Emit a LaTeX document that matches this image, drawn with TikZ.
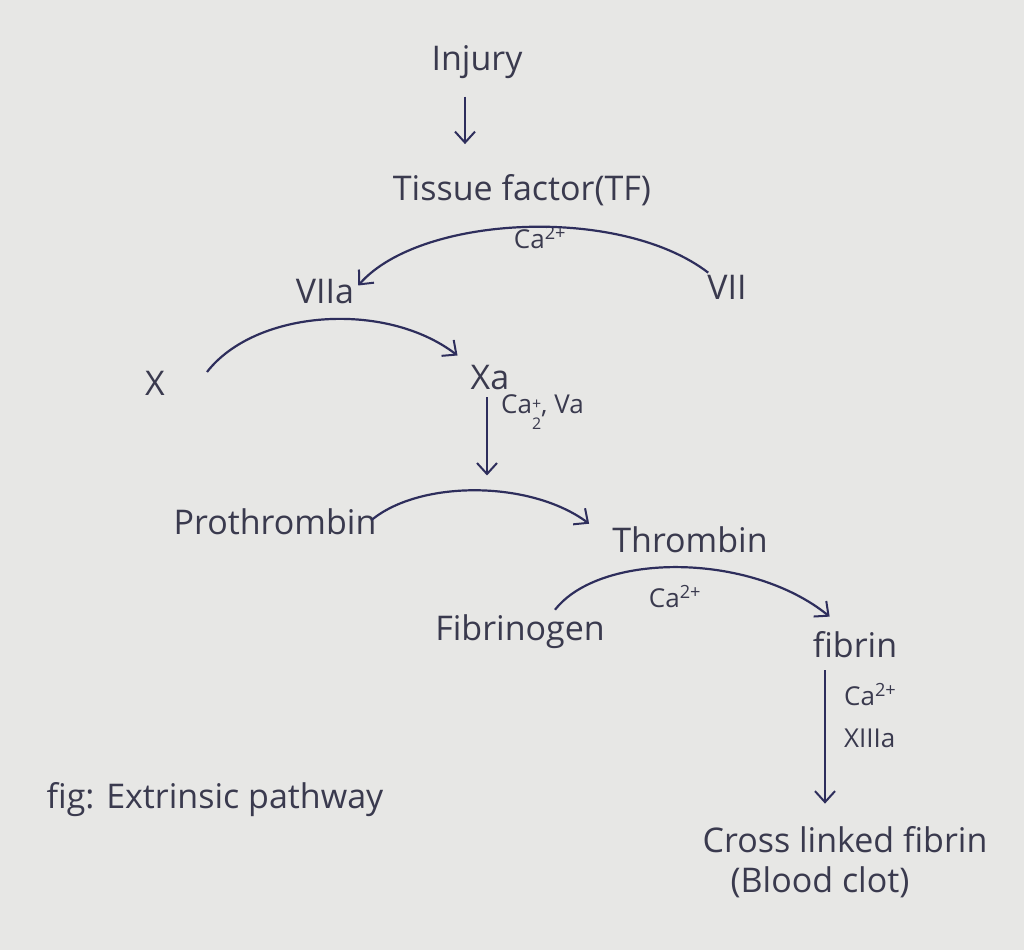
\documentclass[tikz,border=0pt]{standalone}
\usepackage{fontspec}
\setmainfont{Open Sans}
\usetikzlibrary{arrows.meta,calc}
\definecolor{paper}{HTML}{E7E7E5}
\definecolor{ink}{HTML}{2E2E5C}
\definecolor{pen}{HTML}{3A3A4E}
\tikzset{
  lbl/.style={text=pen,font=\fontsize{34}{38}\selectfont,inner sep=2pt},
  small/.style={text=pen,font=\fontsize{26}{30}\selectfont,inner sep=1pt},
  arr/.style={draw=ink,line width=2.2pt,-{Straight Barb[length=11pt,width=20pt,line width=2pt]}},
}
\begin{document}
\begin{tikzpicture}[x=1pt,y=1pt]
\fill[paper] (0,0) rectangle (1024,950);
\useasboundingbox (0,0) rectangle (1024,950);
% nodes
\node[lbl] (inj) at (477,888) {Injury};
\node[lbl] (tf) at (522,760) {Tissue factor(TF)};
\node[lbl] (viia) at (325,658) {VIIa};
\node[lbl] (vii) at (727,663) {VII};
\node[lbl] (x) at (155,567) {X};
\node[lbl] (xa) at (490,572) {Xa};
\node[lbl] (pro) at (275,428) {Prothrombin};
\node[lbl] (thr) at (690,410) {Thrombin};
\node[lbl] (fbg) at (520,318) {Fibrinogen};
\node[lbl] (fib) at (855,305) {fibrin};
\node[lbl] (clf) at (845,110) {Cross linked fibrin};
\node[lbl] (clot) at (820,68) {(Blood clot)};
\node[lbl] (fig) at (215,150) {fig: Extrinsic pathway};
% labels
\node[small] (ca1) at (540,712) {Ca\textsuperscript{2+}};
\node[small,anchor=west] (ca2) at (500,538) {Ca\raisebox{-1.1ex}{\fontsize{16}{15}\selectfont\shortstack[l]{+\\[5pt]2}}, Va};
\node[small] (ca3) at (675,353) {Ca\textsuperscript{2+}};
\node[small,anchor=west] (ca4) at (843,255) {Ca\textsuperscript{2+}};
\node[small,anchor=west] (xiii) at (843,212) {XIIIa};
% connectors
\draw[arr] ([shift={(-12,-16)}]inj.south) -- ([shift={(-57,28)}]tf.north);
\draw[arr] ([shift={(3,0)}]vii.north west) .. controls (620,745) and (420,735) .. ([shift={(2,-8)}]viia.north east);
\draw[arr] ([shift={(40,11)}]x.east) .. controls (255,640) and (385,650) .. ([shift={(-11,8)}]xa.north west);
\draw[arr] ([shift={(-3,-5)}]xa.south) -- ([shift={(-3,-83)}]xa.south);
\draw[arr] ([shift={(-7,2)}]pro.east) .. controls (420,470) and (530,470) .. ([shift={(-21,1)}]thr.north west);
\draw[arr] ([shift={(35,3)}]fbg.north) .. controls (600,398) and (750,398) .. ([shift={(19,13)}]fib.north west);
\draw[arr] ([shift={(-30,-10)}]fib.south) -- ([shift={(-20,21)}]clf.north);
\end{tikzpicture}
\end{document}
